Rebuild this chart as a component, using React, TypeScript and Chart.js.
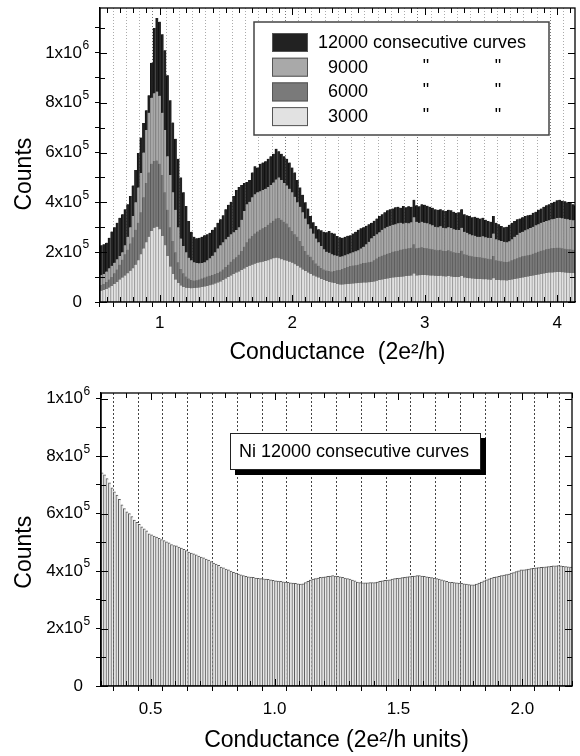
import React, { useEffect, useRef } from 'react';
import { Chart, registerables } from 'chart.js';

Chart.register(...registerables);

const FONT = "'Liberation Sans', Arial, Helvetica, sans-serif";

// ---------- Top histogram (counts in thousands, bins of 0.02 starting at 0.56) ----------
const topBinStart = 0.56;
const topBinWidth = 0.02;

const curves12000 = [
  228, 232, 238, 258, 283, 300, 318, 338, 352, 372,
  392, 425, 468, 530, 598, 660, 718, 770, 830, 960,
  1100, 1140, 1125, 1075, 1010, 910, 810, 720, 655, 575,
  500, 440, 385, 325, 282, 262, 256, 258, 262, 268,
  272, 278, 290, 300, 318, 332, 348, 372, 390, 402,
  425, 450, 462, 470, 478, 482, 490, 520, 545, 540,
  555, 560, 565, 575, 585, 595, 615, 605, 595, 585,
  575, 560, 540, 520, 490, 460, 430, 400, 375, 345,
  320, 305, 292, 288, 282, 280, 285, 278, 275, 265,
  260, 258, 262, 266, 268, 275, 282, 290, 296, 300,
  306, 312, 318, 326, 335, 345, 352, 360, 368, 372,
  375, 380, 382, 378, 385, 380, 384, 382, 410, 388,
  384, 392, 390, 386, 382, 378, 372, 370, 372, 368,
  365, 370, 368, 362, 358, 360, 372, 352, 348, 345,
  340, 342, 338, 335, 338, 330, 325, 322, 345, 318,
  312, 305, 300, 302, 310, 318, 325, 332, 335, 340,
  345, 348, 350, 358, 362, 370, 375, 382, 388, 392,
  398, 402, 408, 410, 406, 404, 400, 398, 392, 388,
];

const curves9000 = [
  108, 112, 122, 135, 145, 158, 172, 185, 200, 228,
  262, 300, 345, 400, 460, 518, 600, 690, 760, 820,
  838, 845, 828, 760, 690, 585, 510, 440, 370, 300,
  255, 225, 200, 178, 168, 160, 157, 156, 157, 160,
  168, 176, 186, 200, 215, 228, 240, 252, 262, 272,
  280, 289, 300, 330, 365, 392, 402, 420, 432, 440,
  445, 450, 455, 462, 470, 480, 492, 500, 490, 478,
  468, 455, 440, 422, 400, 382, 360, 335, 312, 295,
  275, 255, 240, 225, 212, 202, 198, 192, 188, 186,
  182, 184, 188, 192, 196, 200, 204, 208, 215, 222,
  232, 242, 256, 265, 272, 280, 290, 296, 302, 306,
  310, 312, 316, 318, 315, 318, 316, 320, 340, 322,
  318, 322, 318, 316, 312, 308, 302, 300, 304, 298,
  296, 300, 297, 292, 290, 289, 298, 282, 278, 272,
  268, 266, 262, 262, 264, 260, 258, 257, 275, 252,
  248, 245, 242, 240, 244, 252, 262, 270, 278, 282,
  288, 292, 297, 302, 308, 312, 318, 321, 325, 328,
  332, 334, 337, 338, 336, 334, 332, 330, 328, 329,
];

const curves6000 = [
  68, 72, 80, 90, 100, 115, 130, 150, 170, 192,
  210, 235, 260, 290, 318, 360, 420, 478, 520, 555,
  566, 568, 555, 510, 440, 370, 300, 245, 200, 160,
  132, 115, 102, 94, 88, 86, 87, 90, 94, 98,
  102, 105, 108, 112, 116, 122, 130, 140, 150, 162,
  172, 180, 190, 205, 222, 240, 255, 265, 275, 283,
  290, 296, 301, 310, 318, 326, 335, 337, 330, 322,
  315, 300, 285, 272, 262, 245, 225, 205, 190, 182,
  168, 155, 145, 136, 130, 126, 124, 122, 124, 127,
  128, 132, 136, 140, 144, 146, 148, 150, 154, 157,
  158, 160, 162, 168, 175, 182, 186, 190, 194, 197,
  202, 204, 206, 210, 212, 214, 216, 218, 232, 216,
  218, 220, 217, 216, 214, 212, 210, 208, 210, 206,
  205, 208, 204, 200, 198, 197, 206, 192, 190, 186,
  184, 182, 181, 180, 178, 176, 174, 172, 185, 168,
  166, 164, 162, 161, 163, 168, 172, 176, 180, 184,
  186, 188, 190, 194, 198, 202, 206, 208, 212, 214,
  216, 217, 218, 218, 216, 214, 212, 212, 210, 209,
];

const curves3000 = [
  45, 48, 52, 58, 64, 72, 80, 90, 98, 106,
  115, 125, 135, 150, 168, 192, 215, 240, 262, 285,
  298, 302, 292, 265, 228, 185, 142, 112, 90, 76,
  66, 60, 57, 56, 55, 56, 57, 58, 60, 62,
  64, 67, 70, 74, 78, 82, 88, 94, 100, 106,
  112, 118, 122, 128, 134, 140, 145, 150, 154, 158,
  160, 162, 165, 168, 172, 176, 178, 176, 172, 168,
  166, 162, 158, 152, 145, 138, 130, 124, 118, 112,
  106, 102, 98, 92, 88, 84, 80, 78, 76, 72,
  70, 70, 71, 72, 73, 74, 75, 76, 77, 78,
  78, 79, 80, 82, 85, 88, 90, 92, 94, 96,
  98, 99, 100, 101, 102, 104, 105, 106, 114, 106,
  107, 108, 108, 107, 106, 106, 105, 104, 105, 103,
  102, 104, 102, 100, 100, 100, 104, 98, 96, 95,
  94, 93, 92, 92, 91, 91, 90, 89, 95, 88,
  88, 87, 87, 86, 88, 90, 92, 94, 96, 98,
  100, 102, 104, 106, 108, 110, 112, 114, 116, 118,
  118, 119, 120, 120, 119, 118, 117, 116, 116, 115,
];

const topSeriesNames = ['12000', '9000', '6000', '3000'];
const topXTickLabels = ['1', '2', '3', '4'];

// ---------- Bottom histogram (Ni, counts in thousands, bins of 0.01 starting at 0.305) ----------
const niBinStart = 0.305;
const niBinWidth = 0.01;
const niCounts = [
  742, 735, 722, 707, 690, 676, 665, 650, 631, 618,
  606, 600, 590, 578, 570, 563, 554, 547, 540, 530,
  526, 522, 518, 514, 510, 506, 502, 498, 492, 489,
  488, 484, 480, 476, 471, 466, 463, 460, 457, 452,
  449, 446, 442, 438, 433, 428, 424, 420, 414, 411,
  407, 404, 400, 396, 393, 390, 387, 384, 382, 380,
  379, 378, 376, 375, 374, 373, 372, 371, 370, 368,
  366, 365, 364, 363, 362, 361, 359, 358, 357, 356,
  355, 356, 360, 364, 369, 372, 374, 376, 378, 379,
  380, 382, 383, 384, 383, 382, 380, 378, 376, 374,
  372, 369, 366, 362, 360, 359, 359, 359, 360, 360,
  360, 362, 364, 366, 368, 369, 370, 372, 374, 375,
  376, 377, 378, 380, 381, 382, 383, 384, 384, 383,
  382, 380, 378, 377, 376, 374, 372, 370, 367, 364,
  362, 361, 360, 359, 358, 357, 356, 355, 353, 352,
  352, 355, 358, 362, 366, 370, 373, 376, 378, 380,
  382, 384, 386, 388, 390, 393, 395, 398, 401, 404,
  404, 405, 407, 409, 410, 411, 412, 413, 414, 415,
  416, 417, 418, 418, 419, 418, 417, 416, 415, 414,
];
const niXTickLabels = ['0.5', '1.0', '1.5', '2.0'];

// y axes are plotted in units of 1x10^5 counts; labels "2x10" + raised exponent "5"
const countTickBases = ['0', '2x10', '4x10', '6x10', '8x10', '1x10'];
const countTickExponents = ['', '5', '5', '5', '5', '6'];
const countLabelEvery = 2; // one label every 2 x 10^5
const THOUSANDS_PER_UNIT = 100;

// ---------- helpers ----------
function binCentres(start: number, width: number, n: number) {
  return Array.from({ length: n }, (_, i) => Math.round((start + i * width) * 10000) / 10000);
}
function toPoints(xs: number[], ks: number[]) {
  return ks.map((k, i) => ({ x: xs[i], y: k / THOUSANDS_PER_UNIT }));
}
function countIndex(v: any) {
  const k = Number(v) / countLabelEvery;
  const r = Math.round(k);
  if (Math.abs(k - r) < 1e-6 && r >= 0 && r < countTickBases.length) return r;
  return -1;
}
function countLabel(v: any) {
  const r = countIndex(v);
  return r >= 0 ? countTickBases[r] : '';
}

const Y_TICK_LEN = 5;
const Y_LABEL_PAD = 13;

function framePlugin(drawLegend: (chart: any) => void) {
  return {
    id: 'frameAndLegend',
    afterDraw(chart: any) {
      const { ctx, chartArea: a, scales } = chart;
      ctx.save();
      ctx.strokeStyle = '#000';
      ctx.lineWidth = 1.3;
      ctx.strokeRect(a.left, a.top, a.right - a.left, a.bottom - a.top);
      ctx.lineWidth = 1;
      for (const t of scales.x.ticks) {
        const px = Math.round(scales.x.getPixelForValue(t.value)) + 0.5;
        const len = t.label ? 7 : 5;
        ctx.beginPath();
        ctx.moveTo(px, a.top);
        ctx.lineTo(px, a.top + len);
        ctx.moveTo(px, a.bottom);
        ctx.lineTo(px, a.bottom - len);
        ctx.stroke();
      }
      for (const t of scales.y.ticks) {
        const py = Math.round(scales.y.getPixelForValue(t.value)) + 0.5;
        const len = t.label ? 7 : 5;
        ctx.beginPath();
        ctx.moveTo(a.right, py);
        ctx.lineTo(a.right - len, py);
        ctx.moveTo(a.left, py);
        ctx.lineTo(a.left + len, py);
        ctx.stroke();
      }
      // raised exponents of the y tick labels
      ctx.fillStyle = '#000';
      ctx.font = `12px ${FONT}`;
      ctx.textAlign = 'left';
      ctx.textBaseline = 'middle';
      for (const t of scales.y.ticks) {
        const r = countIndex(t.value);
        if (r < 0 || !countTickExponents[r]) continue;
        const py = scales.y.getPixelForValue(t.value);
        ctx.fillText(countTickExponents[r], a.left - Y_TICK_LEN - Y_LABEL_PAD + 0.5, py - 7);
      }
      ctx.restore();
      drawLegend(chart);
    },
  };
}

const topColors = {
  '12000': { bg: '#222222', border: '#111111' },
  '9000': { bg: '#a9a9a9', border: '#8a8a8a' },
  '6000': { bg: '#7a7a7a', border: '#5a5a5a' },
  '3000': { bg: '#e2e2e2', border: '#a4a4a4' },
} as Record<string, { bg: string; border: string }>;

function drawTopLegend(chart: any) {
  const { ctx, chartArea: a } = chart;
  const x0 = a.left + 154;
  const y0 = a.top + 14;
  const w = 295;
  const h = 113;
  ctx.save();
  ctx.fillStyle = '#fff';
  ctx.fillRect(x0, y0, w, h);
  ctx.strokeStyle = '#444';
  ctx.lineWidth = 1.5;
  ctx.strokeRect(x0, y0, w, h);
  ctx.font = `18px ${FONT}`;
  ctx.textBaseline = 'middle';
  topSeriesNames.forEach((name, i) => {
    const sy = y0 + 11 + i * 24.7;
    const c = topColors[name];
    ctx.fillStyle = c.bg;
    ctx.fillRect(x0 + 18, sy, 36, 19);
    ctx.strokeStyle = '#555';
    ctx.lineWidth = 1;
    ctx.strokeRect(x0 + 18.5, sy + 0.5, 35, 18);
    ctx.fillStyle = '#000';
    ctx.textAlign = 'right';
    ctx.fillText(name, x0 + 114, sy + 10);
    ctx.textAlign = 'left';
    if (i === 0) {
      ctx.fillText('consecutive curves', x0 + 119, sy + 10);
    } else {
      ctx.textAlign = 'center';
      ctx.fillText('"', x0 + 172, sy + 9);
      ctx.fillText('"', x0 + 244, sy + 9);
    }
  });
  ctx.restore();
}

function drawNiLegend(chart: any) {
  const { ctx, chartArea: a } = chart;
  const x0 = a.left + 129;
  const y0 = a.top + 40;
  const w = 251;
  const h = 37;
  ctx.save();
  ctx.fillStyle = '#000';
  ctx.fillRect(x0 + 5, y0 + 5, w, h);
  ctx.fillStyle = '#fff';
  ctx.fillRect(x0, y0, w, h);
  ctx.strokeStyle = '#222';
  ctx.lineWidth = 1;
  ctx.strokeRect(x0 + 0.5, y0 + 0.5, w - 1, h - 1);
  ctx.fillStyle = '#000';
  ctx.font = `18px ${FONT}`;
  ctx.textBaseline = 'middle';
  ctx.textAlign = 'left';
  ctx.fillText('Ni 12000 consecutive curves', x0 + 9, y0 + 19);
  ctx.restore();
}

function barDataset(label: string, data: any[], bg: string, border: string, extraTop = 0) {
  return {
    label,
    data,
    backgroundColor: bg,
    borderColor: border,
    borderWidth: { left: 1, right: 0, top: extraTop, bottom: 0 },
    borderSkipped: 'start',
    grouped: false,
    barPercentage: 1,
    categoryPercentage: 1,
  };
}

function countsAxis(max: number, width: number, titleText: string) {
  return {
    min: 0,
    max,
    grid: { drawOnChartArea: false, tickColor: '#000', tickLength: Y_TICK_LEN },
    border: { color: '#000', width: 1.3 },
    ticks: {
      stepSize: 1,
      includeBounds: false,
      autoSkip: false,
      padding: Y_LABEL_PAD,
      color: '#000',
      font: { family: FONT, size: 17 },
      callback: countLabel,
    },
    title: {
      display: true,
      text: titleText,
      color: '#000',
      font: { family: FONT, size: 23 },
      padding: { top: 11, bottom: 0 },
    },
    afterFit: (s: any) => {
      s.width = width;
      s.paddingTop = 0;
      s.paddingBottom = 0;
    },
  };
}

function topConfig(): any {
  const xs = binCentres(topBinStart, topBinWidth, curves12000.length);
  const series: Record<string, number[]> = {
    '12000': curves12000,
    '9000': curves9000,
    '6000': curves6000,
    '3000': curves3000,
  };
  // dataset index 0 is painted last (on top): smallest first
  const order = ['3000', '6000', '9000', '12000'];
  return {
    type: 'bar',
    data: {
      datasets: order.map((n) =>
        barDataset(n, toPoints(xs, series[n]), topColors[n].bg, topColors[n].border)
      ),
    },
    options: {
      animation: false,
      responsive: false,
      events: [],
      layout: { padding: { top: 8, right: 5, left: 0, bottom: 0 } },
      plugins: { legend: { display: false }, tooltip: { enabled: false } },
      scales: {
        x: {
          type: 'linear',
          min: 0.55,
          max: 4.135,
          offset: false,
          grid: {
            color: (c: any) => (c.tick && c.tick.label ? '#777' : '#ababab'),
            lineWidth: 1,
            tickColor: '#000',
            tickLength: 5,
          },
          border: { color: '#000', width: 1.3, dash: [1, 2] },
          ticks: {
            stepSize: 0.1,
            includeBounds: false,
            autoSkip: false,
            maxRotation: 0,
            padding: 6,
            color: '#000',
            font: { family: FONT, size: 17 },
            callback: (v: any) => {
              const n = Number(v);
              const r = Math.round(n);
              return Math.abs(n - r) < 1e-6 && r >= 1 && r <= topXTickLabels.length ? topXTickLabels[r - 1] : '';
            },
          },
          title: {
            display: true,
            text: 'Conductance  (2e²/h)',
            color: '#000',
            font: { family: FONT, size: 23 },
            padding: { top: 0, bottom: 0 },
          },
          afterFit: (s: any) => {
            s.height = 64;
          },
        },
        y: countsAxis(11.8, 100, 'Counts      '),
      },
    },
    plugins: [framePlugin(drawTopLegend)],
  };
}

function niConfig(): any {
  const xs = binCentres(niBinStart, niBinWidth, niCounts.length);
  return {
    type: 'bar',
    data: {
      datasets: [barDataset('Ni 12000', toPoints(xs, niCounts), '#e9e9e9', '#5a5a5a', 1)],
    },
    options: {
      animation: false,
      responsive: false,
      events: [],
      layout: { padding: { top: 27, right: 5, left: 0, bottom: 0 } },
      plugins: { legend: { display: false }, tooltip: { enabled: false } },
      scales: {
        x: {
          type: 'linear',
          min: 0.3,
          max: 2.2,
          offset: false,
          grid: { color: '#444', lineWidth: 1, tickColor: '#000', tickLength: 5 },
          border: { color: '#000', width: 1.3, dash: [2, 2] },
          ticks: {
            stepSize: 0.1,
            includeBounds: false,
            autoSkip: false,
            maxRotation: 0,
            padding: 8,
            color: '#000',
            font: { family: FONT, size: 17 },
            callback: (v: any) => {
              const n = Number(v) * 2;
              const r = Math.round(n);
              return Math.abs(n - r) < 1e-6 && r >= 1 && r <= niXTickLabels.length ? niXTickLabels[r - 1] : '';
            },
          },
          title: {
            display: true,
            text: 'Conductance (2e²/h units)',
            color: '#000',
            font: { family: FONT, size: 23 },
            padding: { top: 0, bottom: 2 },
          },
          afterFit: (s: any) => {
            s.height = 70;
          },
        },
        y: countsAxis(10.2, 101, 'Counts    '),
      },
    },
    plugins: [framePlugin(drawNiLegend)],
  };
}

export default function App() {
  const topRef = useRef<HTMLCanvasElement>(null);
  const niRef = useRef<HTMLCanvasElement>(null);

  useEffect(() => {
    const c1 = new Chart(topRef.current as HTMLCanvasElement, topConfig());
    const c2 = new Chart(niRef.current as HTMLCanvasElement, niConfig());
    return () => {
      c1.destroy();
      c2.destroy();
    };
  }, []);

  return (
    <div style={{ position: 'absolute', left: 0, top: 0, width: 580, height: 756, background: '#fff' }}>
      <canvas ref={topRef} width={580} height={366} style={{ position: 'absolute', left: 0, top: 0 }} />
      <canvas ref={niRef} width={580} height={390} style={{ position: 'absolute', left: 0, top: 366 }} />
    </div>
  );
}
